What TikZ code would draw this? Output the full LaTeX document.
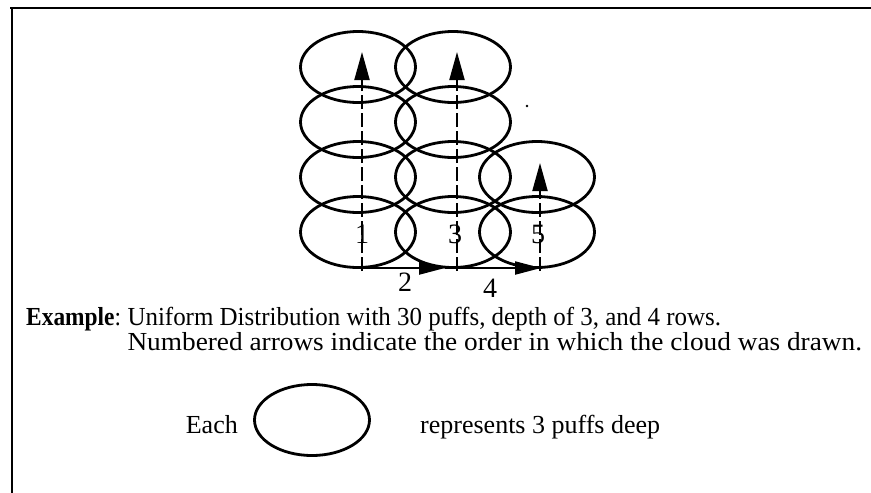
\documentclass[tikz,border=0pt]{standalone}
\usepackage{fontspec}
\setmainfont{Liberation Serif}
\usetikzlibrary{arrows.meta,shapes.geometric}
\begin{document}
\begin{tikzpicture}[x=1pt,y=-1pt,
  puff/.style={draw, ellipse, line width=2.8pt, minimum width=115pt, minimum height=71pt, inner sep=0pt},
  dashline/.style={line width=2pt, dash pattern=on 14pt off 4pt},
  uparrow/.style={dashline, -{Triangle[length=28pt,width=15pt]}},
  rightarrow/.style={line width=2.2pt, -{Triangle[length=26pt,width=13pt]}},
  numlabel/.style={font=\fontsize{28}{28}\selectfont, inner sep=0pt},
  txt/.style={font=\fontsize{26}{26}\selectfont, inner sep=0pt}]
\useasboundingbox (0,0) rectangle (871,493);
% frame
\draw[line width=2.6pt] (10,8) -- (871,8);
\draw[line width=2.2pt] (12,8) -- (12,493);
% puffs
\foreach \c/\x in {1/358,2/453} {
  \foreach \r/\y in {1/67,2/122,3/177,4/232} {
    \node[puff] (p\c\r) at (\x,\y) {};
  }
}
\node[puff] (p33) at (537,177) {};
\node[puff] (p34) at (537,232) {};
% column axes
\coordinate (b1) at (362,271);
\coordinate (t1) at (362,52);
\coordinate (b2) at (457,271);
\coordinate (t2) at (457,52);
\coordinate (b3) at (540,271);
\coordinate (t3) at (540,163);
\coordinate (h1) at (362,268);
\coordinate (h2) at (445,268);
\coordinate (h3) at (457,268);
\coordinate (h4) at (541,268);
\draw[uparrow] (b1) -- (t1);
\draw[uparrow] (b2) -- (t2);
\draw[uparrow] (b3) -- (t3);
\draw[rightarrow] (h1) -- (h2);
\draw[line width=2.2pt] (h2) -- (h3);
\draw[rightarrow] (h3) -- (h4);
% labels
\node[numlabel] (n1) at (362,234) {1};
\node[numlabel] (n3) at (455,234) {3};
\node[numlabel] (n5) at (538,234) {5};
\node[numlabel] (n2) at (405,282) {2};
\node[numlabel] (n4) at (490,288) {4};
% stray dot
\fill (527,106) circle (1.4pt);
% text
\node[txt, anchor=base west] (ex) at (26,325) {\scalebox{0.9}[1]{\textbf{Example}:}};
\node[txt, anchor=base west] (l1) at ([xshift=6pt]ex.base east) {\scalebox{0.96}[1]{Uniform Distribution with 30 puffs, depth of 3, and 4 rows.}};
\node[txt, anchor=base west] (l2) at ([yshift=-25pt]l1.base west) {\scalebox{1.05}[1]{Numbered arrows indicate the order in which the cloud was drawn.}};
% legend
\node[puff] (leg) at (312,420) {};
\node[txt, anchor=base east] (each) at (238,433) {Each};
\node[txt, anchor=base west] (rep) at (420,433) {represents 3 puffs deep};
\end{tikzpicture}
\end{document}
